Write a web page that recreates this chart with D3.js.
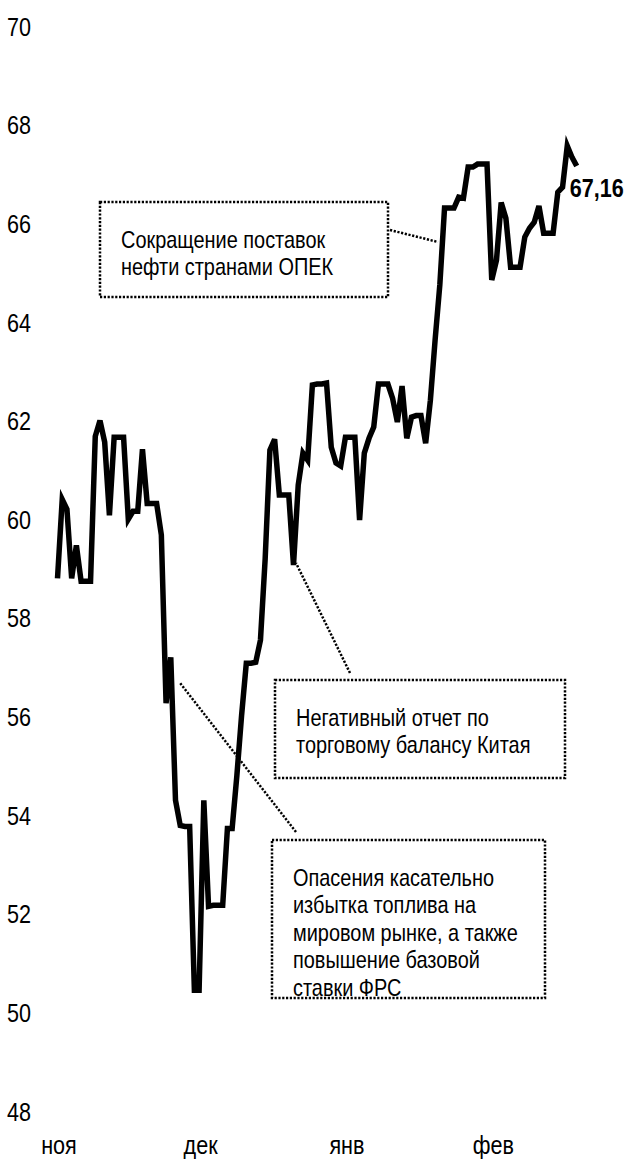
<html>
    <head>
        <meta charset="utf-8">
        <style>
            body { margin: 0; background-color: #fff; }
            text { font-family: "Liberation Sans Narrow", "Arial Narrow", "Liberation Sans", Arial, sans-serif; fill: #000; }
            .tick text { font-size: 26px; }
            .note text { font-size: 24px; }
            .note rect, .note line { fill: none; stroke: #000; stroke-width: 2.5; stroke-dasharray: 2.2,1.6; }
            path.price { fill: none; stroke: #000; stroke-width: 5.5; }
        </style>
        <script type="text/javascript" src="https://cdn.jsdelivr.net/npm/d3@7/dist/d3.min.js"></script>
    </head>
    <body>
        <svg width="630" height="1160"></svg>

        <script type="text/javascript">
            // daily closes, first value is 1 Nov
            var startDay = new Date(2018, 10, 1);
            var prices = [
                58.8, 60.4, 60.2, 58.8, 59.47, 58.74, 58.74, 58.74, 61.68, 62.0,
                61.56, 60.08, 61.66, 61.66, 61.66, 60.0, 60.16, 60.16, 61.42, 60.32,
                60.32, 60.32, 59.68, 56.27, 57.2, 54.3, 53.79, 53.77, 53.77, 50.45,
                50.45, 54.3, 52.15, 52.17, 52.17, 52.17, 53.73, 53.73, 54.8, 56.02,
                57.08, 57.08, 57.1, 57.55, 59.2, 61.4, 61.62, 60.49, 60.49, 60.49,
                59.07, 60.69, 61.34, 61.2, 62.72, 62.74, 62.74, 62.76, 61.46, 61.14,
                61.08, 61.66, 61.66, 61.66, 59.98, 61.34, 61.64, 61.87, 62.74, 62.74,
                62.74, 62.45, 61.97, 62.7, 61.64, 62.07, 62.1, 62.1, 61.54, 62.41,
                63.63, 64.75, 66.31, 66.31, 66.31, 66.53, 66.51, 67.14, 67.14, 67.2,
                67.2, 67.2, 64.85, 65.25, 66.42, 66.1, 65.11, 65.11, 65.11, 65.72,
                65.9, 66.02, 66.35, 65.8, 65.8, 65.8, 66.63, 66.73, 67.57, 67.34,
                67.16
            ];
            var yTicks = [48, 50, 52, 54, 56, 58, 60, 62, 64, 66, 68, 70];
            var monthStarts = [new Date(2018, 10, 1), new Date(2018, 11, 1), new Date(2019, 0, 1), new Date(2019, 1, 1)];
            var monthLabels = ["ноя", "дек", "янв", "фев"];
            var lastLabel = "67,16";

            var notes = [
                { lines: ["Сокращение поставок", "нефти странами ОПЕК"],
                  box: [100, 202, 288, 95], from: [390, 230], to: [438, 242] },
                { lines: ["Негативный отчет по", "торговому балансу Китая"],
                  box: [275, 680, 290, 98], from: [350, 673], to: [296, 563] },
                { lines: ["Опасения касательно", "избытка топлива на", "мировом рынке, а также", "повышение базовой", "ставки ФРС"],
                  box: [272, 840, 273, 158], from: [296, 832], to: [180, 683] }
            ];

            // no narrow face installed, so squeeze the regular one
            var squeeze = "scale(0.83,1)";

            var data = prices.map(function(v, i) {
                return { date: d3.timeDay.offset(startDay, i), value: v };
            });

            var svg = d3.select("svg");

            var x = d3.scaleTime()
                .domain([startDay, data[data.length - 1].date])
                .range([57.5, 57.5 + 4.72 * (data.length - 1)]);
            var y = d3.scaleLinear().domain([48, 70]).range([1111, 26]);

            function make_axes() {
                var ya = svg.append("g")
                    .attr("transform", "translate(7,0)")
                    .call(d3.axisLeft(y).tickValues(yTicks).tickSize(0).tickPadding(0).tickFormat(d3.format("d")));
                ya.select(".domain").remove();
                ya.selectAll("text")
                    .attr("text-anchor", "start")
                    .attr("font-family", null)
                    .attr("font-size", null)
                    .attr("dy", "0.35em")
                    .attr("transform", squeeze);

                var xa = svg.append("g")
                    .attr("transform", "translate(1,1154)")
                    .call(d3.axisBottom(x).tickValues(monthStarts).tickSize(0).tickPadding(0)
                        .tickFormat(function(d, i) { return monthLabels[i]; }));
                xa.select(".domain").remove();
                xa.selectAll("text")
                    .attr("font-family", null)
                    .attr("font-size", null)
                    .attr("dy", 0)
                    .attr("transform", squeeze);
            }

            function make_notes() {
                var g = svg.selectAll("g.note")
                    .data(notes)
                  .enter()
                    .append("g")
                    .attr("class", "note");
                g.append("line")
                    .attr("x1", function(d) { return d.from[0]; })
                    .attr("y1", function(d) { return d.from[1]; })
                    .attr("x2", function(d) { return d.to[0]; })
                    .attr("y2", function(d) { return d.to[1]; });
                g.append("rect")
                    .attr("x", function(d) { return d.box[0]; })
                    .attr("y", function(d) { return d.box[1]; })
                    .attr("width", function(d) { return d.box[2]; })
                    .attr("height", function(d) { return d.box[3]; });
                g.each(function(d) {
                    d3.select(this).selectAll("text")
                        .data(d.lines)
                      .enter()
                        .append("text")
                        .attr("transform", function(t, i) {
                            return "translate(" + [d.box[0] + 21, d.box[1] + 46 + i * 27.4] + ") " + squeeze;
                        })
                        .text(function(t) { return t; });
                });
            }

            function make_line() {
                var line = d3.line()
                    .x(function(d) { return x(d.date); })
                    .y(function(d) { return y(d.value); });
                svg.append("path")
                    .datum(data)
                    .attr("class", "price")
                    .attr("d", line);

                var last = data[data.length - 1];
                svg.append("text")
                    .attr("transform", "translate(" + [x(last.date) - 7, y(last.value) + 31] + ") " + squeeze)
                    .attr("font-size", 26)
                    .attr("font-weight", "bold")
                    .text(lastLabel);
            }

            make_axes();
            make_notes();
            make_line();
        </script>
    </body>
</html>
